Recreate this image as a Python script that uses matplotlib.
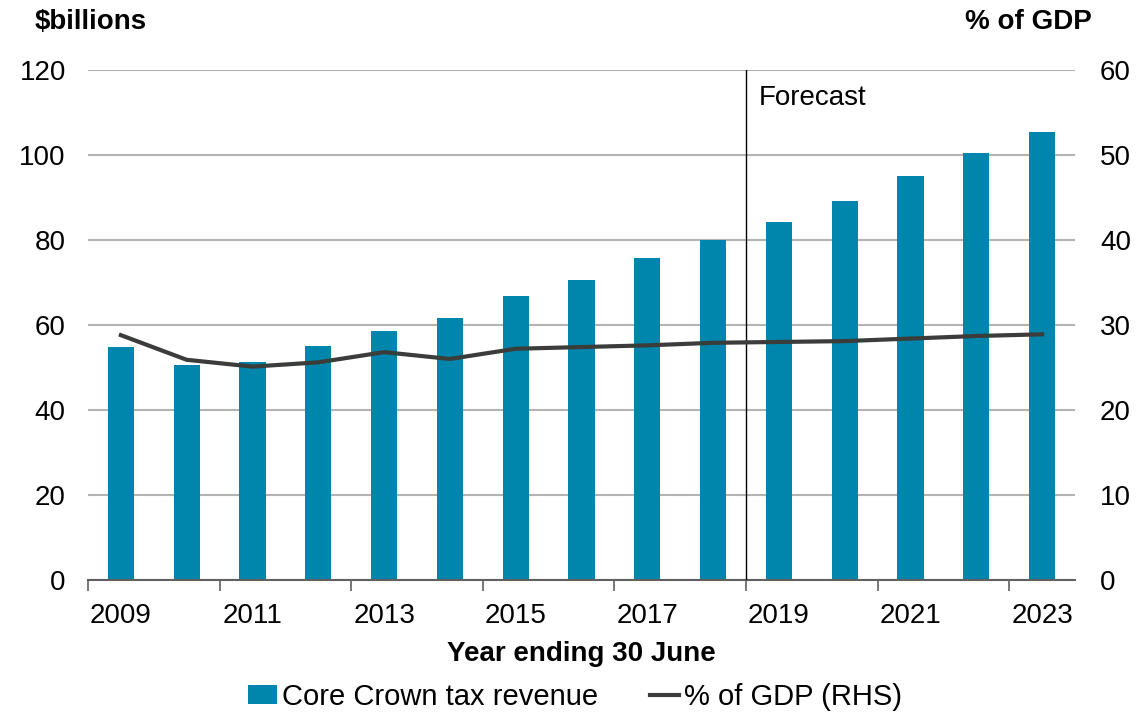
import matplotlib
matplotlib.use('Agg')
import matplotlib.pyplot as plt
import numpy as np

years = [2009, 2010, 2011, 2012, 2013, 2014, 2015, 2016, 2017, 2018,
         2019, 2020, 2021, 2022, 2023]
tax_revenue = [54.8, 50.6, 51.3, 55.1, 58.6, 61.6, 66.8, 70.6, 75.8, 80.1,
               84.2, 89.2, 95.1, 100.4, 105.4]
pct_gdp = [28.8, 25.9, 25.1, 25.6, 26.8, 26.0, 27.2, 27.4, 27.6, 27.9,
           28.0, 28.1, 28.4, 28.7, 28.9]
tick_years = [2009, 2011, 2013, 2015, 2017, 2019, 2021, 2023]

plt.rcParams['font.family'] = ['Liberation Sans', 'DejaVu Sans']

bar_col = '#0085ad'
line_col = '#3a3d3a'
fs = 20

fig = plt.figure(figsize=(11.46, 7.15), dpi=100)
ax = fig.add_axes([0.0768, 0.189, 0.8612, 0.713])
x = np.arange(len(years))

ax.bar(x, tax_revenue, width=0.4, color=bar_col, label='Core Crown tax revenue', zorder=2)
ax.set_xlim(-0.5, len(years) - 0.5)
ax.set_ylim(0, 120)
ax.set_yticks(range(0, 121, 20))
ax.grid(axis='y', color='#b3b3b3', linewidth=1.5, zorder=0)
ax.set_axisbelow(True)

# ticks at category boundaries, labels at category centres
ax.set_xticks(np.arange(-0.5, len(years) - 1, 2))
ax.set_xticklabels([])
ax.set_xticks([years.index(y) for y in tick_years], minor=True)
ax.set_xticklabels([str(y) for y in tick_years], minor=True)
ax.tick_params(axis='x', which='major', length=8, width=1.2, color='#606060')
ax.tick_params(axis='x', which='minor', length=0, pad=17, labelsize=fs)
ax.tick_params(axis='y', length=0, pad=16, labelsize=fs)

for s in ['top', 'left', 'right']:
    ax.spines[s].set_visible(False)
ax.spines['bottom'].set_color('#606060')
ax.spines['bottom'].set_linewidth(1.5)

ax2 = ax.twinx()
ax2.plot(x, pct_gdp, color=line_col, linewidth=3, label='% of GDP (RHS)', zorder=3)
ax2.set_ylim(0, 60)
ax2.set_yticks(range(0, 61, 10))
ax2.tick_params(axis='y', length=0, pad=18, labelsize=fs)
for s in ['top', 'left', 'right', 'bottom']:
    ax2.spines[s].set_visible(False)

ax.axvline(9.5, color='black', linewidth=1, zorder=4)
ax.text(9.7, 113.5, 'Forecast', fontsize=fs, va='center', ha='left')

fig.text(35 / 1146, 1 - 22 / 715, '$billions', fontsize=fs, fontweight='bold', va='center', ha='left')
fig.text(1092 / 1146, 1 - 22 / 715, '% of GDP', fontsize=fs, fontweight='bold', va='center', ha='right')
ax.set_xlabel('Year ending 30 June', fontsize=fs, fontweight='bold', labelpad=8)

h1, l1 = ax.get_legend_handles_labels()
h2, l2 = ax2.get_legend_handles_labels()
fig.legend(h1 + h2, l1 + l2, loc='center', bbox_to_anchor=(575 / 1146, 1 - 697 / 715),
           ncol=2, frameon=False, fontsize=21, handlelength=1.0, handleheight=0.6,
           handletextpad=0.15, columnspacing=1.8)

plt.savefig('out.png', dpi=100)
